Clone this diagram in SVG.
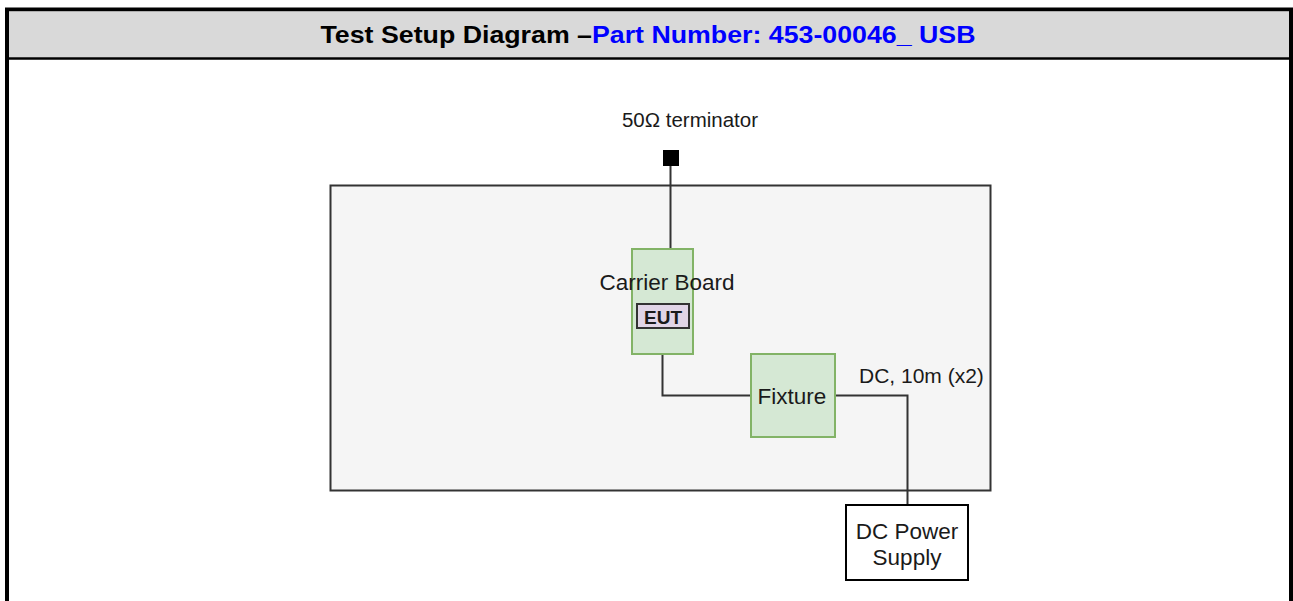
<svg xmlns="http://www.w3.org/2000/svg" width="1293" height="601" viewBox="0 0 1293 601">
<style>
.t{font-family:"Liberation Sans",Arial,sans-serif;fill:#1a1a1a;}
.conn{fill:none;stroke:#333333;stroke-width:2;}
.green{fill:#d5e8d4;stroke:#82b366;stroke-width:2;}
</style>
<rect x="0" y="0" width="1293" height="601" fill="#ffffff"/>
<g id="frame">
<rect x="7" y="9.5" width="1284" height="600" fill="#ffffff" stroke="#000000" stroke-width="4"/>
<rect x="9" y="11.5" width="1280" height="46" fill="#d9d9d9"/>
<line x1="7" y1="58.5" x2="1291" y2="58.5" stroke="#000000" stroke-width="2.5"/>
<text x="648" y="43" text-anchor="middle" font-family="Liberation Sans,Arial,sans-serif" font-weight="bold" font-size="23.5" fill="#000000" textLength="655" lengthAdjust="spacingAndGlyphs">Test Setup Diagram –<tspan fill="#0000ff">Part Number: 453-00046_ USB</tspan></text>
</g>
<g id="container">
<rect x="330.5" y="185.5" width="660" height="305" fill="#f5f5f5" stroke="#333333" stroke-width="2"/>
</g>
<g id="connectors">
<path class="conn" d="M670.5 166 V249"/>
<path class="conn" d="M662.5 354 V395.5 H751"/>
<path class="conn" d="M835 395.5 H907.5 V505"/>
</g>
<g id="terminator">
<rect x="663" y="150" width="16" height="16" fill="#000000"/>
<text class="t" x="690" y="127" text-anchor="middle" font-size="20.5">50Ω terminator</text>
</g>
<g id="carrier-board">
<rect class="green" x="632" y="249" width="61" height="105"/>
<text class="t" x="667" y="290" text-anchor="middle" font-size="22.5">Carrier Board</text>
<rect x="637" y="304" width="52" height="24" fill="#e1d5e7" stroke="#333333" stroke-width="2"/>
<text class="t" x="663" y="324" text-anchor="middle" font-size="19" font-weight="bold">EUT</text>
</g>
<g id="fixture">
<rect class="green" x="751" y="354" width="84" height="83"/>
<text class="t" x="792" y="404" text-anchor="middle" font-size="22.5">Fixture</text>
</g>
<g id="dc-label">
<text class="t" x="859" y="383" font-size="21">DC, 10m (x2)</text>
</g>
<g id="dc-power-supply">
<rect x="846" y="505" width="122" height="75" fill="#ffffff" stroke="#000000" stroke-width="2"/>
<text class="t" x="907" y="539" text-anchor="middle" font-size="22.5">DC Power</text>
<text class="t" x="907" y="565" text-anchor="middle" font-size="22.5">Supply</text>
</g>
</svg>
